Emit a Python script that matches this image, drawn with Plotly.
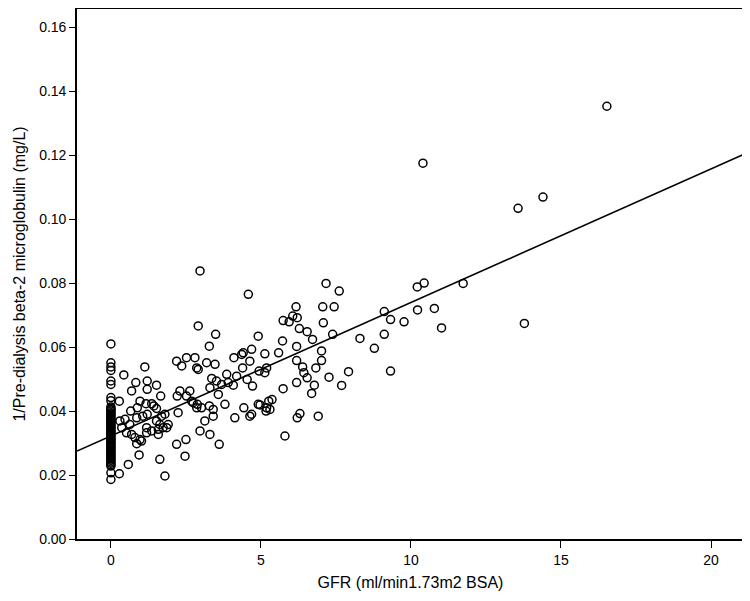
import plotly.graph_objects as go

# Points in the x = 0 column (GFR = 0)
col0_y = [0.0610, 0.0551, 0.0538, 0.0527, 0.0494, 0.0483, 0.0442, 0.0432, 0.0413, 0.0408,
          0.0404, 0.0400, 0.0395, 0.0391, 0.0387, 0.0383, 0.0378, 0.0374, 0.0370, 0.0366,
          0.0362, 0.0357, 0.0353, 0.0349, 0.0345, 0.0340, 0.0336, 0.0332, 0.0328, 0.0324,
          0.0319, 0.0315, 0.0311, 0.0306, 0.0302, 0.0298, 0.0294, 0.0289, 0.0285, 0.0281,
          0.0276, 0.0272, 0.0268, 0.0264, 0.0259, 0.0255, 0.0250, 0.0246, 0.0241, 0.0237,
          0.0232, 0.0228, 0.0207, 0.0186]

# Remaining points (GFR > 0)
gfr = [0.28, 0.43, 0.28, 0.58, 0.69, 0.83, 1.13, 1.21, 1.21, 1.52,
       0.97, 1.17, 1.36, 1.43, 1.52, 0.88, 0.66, 0.86, 1.06, 1.21,
       0.30, 0.47, 0.63, 0.36, 0.52, 0.69, 0.80, 0.97, 0.86, 1.02,
       1.19, 1.36, 1.19, 1.58, 1.63, 1.74, 1.86, 1.91, 1.69, 1.52,
       1.58, 1.80, 1.63, 0.94, 1.80, 1.66, 2.19, 2.21, 2.30, 2.24,
       2.52, 2.52, 2.63, 2.36, 2.19, 2.47, 2.50, 2.69, 2.80, 2.86,
       2.91, 2.74, 2.86, 2.88, 3.02, 2.97, 2.91, 3.19, 3.28, 3.28,
       3.13, 3.30, 3.41, 3.41, 3.47, 3.49, 3.61, 3.58, 3.30, 3.36,
       3.52, 3.69, 3.86, 3.91, 3.80, 4.10, 4.08, 4.13, 4.19, 4.36,
       4.41, 4.39, 4.43, 4.54, 4.63, 4.69, 4.58, 4.63, 4.69, 4.72,
       4.91, 4.91, 4.94, 2.97,
       7.17, 7.61, 6.17, 6.06, 6.21, 5.74, 5.94, 6.28, 7.06, 7.44,
       6.54, 6.72, 7.08, 7.39, 8.30, 9.11, 9.32, 9.11, 8.78, 9.32,
       7.92, 7.69, 7.27, 7.02, 7.02, 6.83, 6.19, 6.19, 6.39, 6.43,
       6.54, 6.78, 6.69, 6.19, 5.74, 6.91, 6.30, 6.21, 5.80, 5.59,
       5.72, 5.13, 5.37, 5.26, 5.19, 5.30, 5.17, 4.97, 5.19, 5.13,
       10.21, 10.44, 11.74, 9.77, 10.22, 10.78, 11.02, 13.78,
       13.57, 14.40, 16.53, 10.40]
b2m_inv = [0.0431, 0.0513, 0.0204, 0.0233, 0.0463, 0.0489, 0.0538, 0.0494, 0.0468, 0.0481,
           0.0431, 0.0423, 0.0423, 0.0416, 0.0408, 0.0410, 0.0400, 0.0379, 0.0384, 0.0390,
           0.0369, 0.0374, 0.0358, 0.0348, 0.0332, 0.0327, 0.0317, 0.0311, 0.0298, 0.0306,
           0.0332, 0.0338, 0.0348, 0.0343, 0.0358, 0.0348, 0.0348, 0.0358, 0.0384, 0.0369,
           0.0327, 0.0390, 0.0249, 0.0263, 0.0197, 0.0447, 0.0556, 0.0447, 0.0463, 0.0395,
           0.0567, 0.0447, 0.0463, 0.0541, 0.0296, 0.0259, 0.0311, 0.0431, 0.0567, 0.0535,
           0.0530, 0.0426, 0.0410, 0.0421, 0.0410, 0.0338, 0.0666, 0.0551, 0.0603, 0.0416,
           0.0369, 0.0327, 0.0405, 0.0384, 0.0546, 0.0640, 0.0296, 0.0452, 0.0473, 0.0502,
           0.0494, 0.0483, 0.0515, 0.0489, 0.0421, 0.0567, 0.0481, 0.0379, 0.0509, 0.0577,
           0.0582, 0.0535, 0.0410, 0.0499, 0.0384, 0.0390, 0.0765, 0.0556, 0.0593, 0.0478,
           0.0634, 0.0421, 0.0525, 0.0838,
           0.0799, 0.0775, 0.0726, 0.0697, 0.0692, 0.0683, 0.0679, 0.0658, 0.0726, 0.0726,
           0.0648, 0.0624, 0.0676, 0.0640, 0.0627, 0.0711, 0.0686, 0.0640, 0.0596, 0.0525,
           0.0523, 0.0480, 0.0506, 0.0588, 0.0558, 0.0535, 0.0602, 0.0558, 0.0538, 0.0520,
           0.0504, 0.0481, 0.0455, 0.0489, 0.0470, 0.0384, 0.0392, 0.0379, 0.0322, 0.0582,
           0.0619, 0.0579, 0.0436, 0.0431, 0.0410, 0.0405, 0.0400, 0.0419, 0.0535, 0.0520,
           0.0788, 0.0800, 0.0799, 0.0679, 0.0716, 0.0721, 0.0660, 0.0674,
           0.1034, 0.1069, 0.1353, 0.1175]

# Fit line
fit_intercept = 0.0322
fit_slope = 0.004175

x_range = [-1.13, 21.1]
y_range = [0.0, 0.1657]
x_ticks = [0, 5, 10, 15, 20]
y_ticks = [0.00, 0.02, 0.04, 0.06, 0.08, 0.10, 0.12, 0.14, 0.16]

all_x = [0.0] * len(col0_y) + gfr
all_y = col0_y + b2m_inv

fig = go.Figure()
fig.add_trace(go.Scatter(
    x=all_x, y=all_y, mode="markers",
    marker=dict(symbol="circle-open", size=8, color="black", line=dict(width=1.5, color="black")),
    showlegend=False, hoverinfo="skip"))
fig.add_trace(go.Scatter(
    x=x_range, y=[fit_intercept + fit_slope * v for v in x_range], mode="lines",
    line=dict(color="black", width=1.6), showlegend=False, hoverinfo="skip"))

font_family = "Liberation Sans, Arial, sans-serif"
fig.update_layout(
    width=742, height=593,
    margin=dict(l=69, r=6, t=1, b=62, autoexpand=False),
    paper_bgcolor="white", plot_bgcolor="white",
    font=dict(family=font_family, color="black", size=14),
    xaxis=dict(range=x_range, tickvals=x_ticks, showgrid=False, zeroline=False,
               showline=True, linecolor="black", linewidth=1.6, mirror=True,
               ticks="outside", ticklen=7, tickwidth=1.3, tickcolor="black",
               tickfont=dict(size=14), automargin=False,
               title=dict(text="GFR (ml/min1.73m2 BSA)", font=dict(size=16), standoff=10)),
    yaxis=dict(range=y_range, tickvals=y_ticks, tickformat=".2f", showgrid=False, zeroline=False,
               showline=True, linecolor="black", linewidth=1.6, mirror=True,
               ticks="outside", ticklen=6, tickwidth=1.3, tickcolor="black",
               tickfont=dict(size=14), automargin=False,
               title=dict(text="1/Pre-dialysis beta-2 microglobulin (mg/L)", font=dict(size=16), standoff=10)),
)
fig.write_html("out.html")
